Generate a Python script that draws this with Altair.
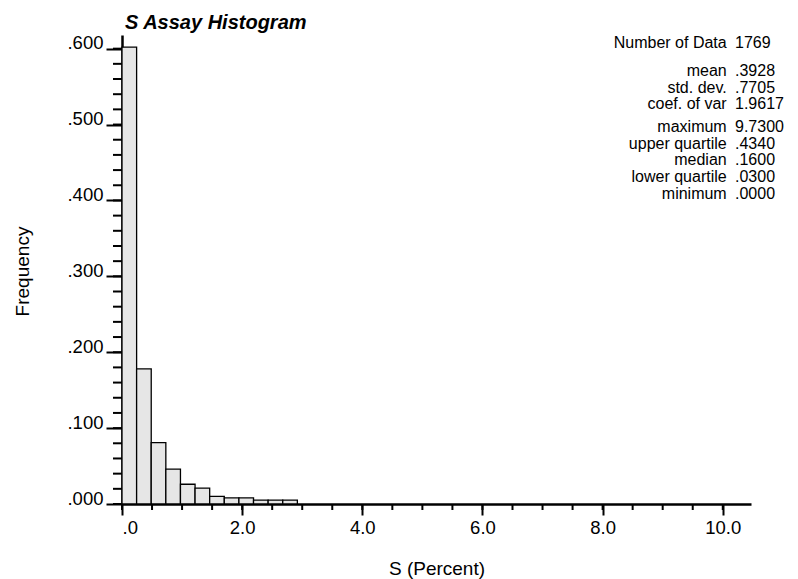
import altair as alt
import pandas as pd

# Histogram of S assay values (relative frequency per class)
bin_width = 0.24325
frequencies = [0.602, 0.178, 0.081, 0.046, 0.026, 0.021, 0.010, 0.008, 0.008, 0.005, 0.005, 0.005]

# Axis tick values
x_major = [0, 2, 4, 6, 8, 10]
x_minor = [i * 0.5 for i in range(21)]
y_major = [0.0, 0.1, 0.2, 0.3, 0.4, 0.5, 0.6]
y_minor = [i * 0.02 for i in range(31)]

# Summary statistics block
stat_names = ["Number of Data", "mean", "std. dev.", "coef. of var",
              "maximum", "upper quartile", "median", "lower quartile", "minimum"]
stat_values = ["1769", ".3928", ".7705", "1.9617",
               "9.7300", ".4340", ".1600", ".0300", ".0000"]

FONT = "Liberation Sans"
W, H = 629, 469
X_MAX, Y_MAX = 10.47, 0.618
LABEL_SIZE = 18.5
TITLE_SIZE = 19
STAT_SIZE = 16

starts = [i * bin_width for i in range(len(frequencies))]
bars_df = pd.DataFrame({
    "start": starts,
    "end": [s + bin_width for s in starts],
    "freq": frequencies,
})

x_scale = alt.Scale(domain=[0, X_MAX], nice=False, zero=False)
y_scale = alt.Scale(domain=[0, Y_MAX], nice=False)

x_axis = alt.Axis(
    values=x_major,
    labelExpr="datum.value == 0 ? '.0' : format(datum.value, '.1f')",
    tickSize=11, tickWidth=2, tickColor="black",
    domainColor="black", domainWidth=2.5,
    labelFont=FONT, labelFontSize=LABEL_SIZE, labelColor="black", labelPadding=3,
    grid=False,
    titleFont=FONT, titleFontSize=TITLE_SIZE, titleFontWeight="normal", titleColor="black",
    titleX=W / 2, titleY=64, titleBaseline="middle", titleAlign="center",
)
y_axis = alt.Axis(
    values=y_major,
    labelExpr="substring(format(datum.value, '.3f'), 1)",
    labelBaseline="alphabetic",
    tickSize=16, tickWidth=2, tickColor="black",
    domainColor="black", domainWidth=2.5,
    labelFont=FONT, labelFontSize=LABEL_SIZE, labelColor="black", labelPadding=3,
    grid=False,
    titleFont=FONT, titleFontSize=TITLE_SIZE, titleFontWeight="normal", titleColor="black",
    titleX=-100, titleY=236, titleAngle=270, titleBaseline="middle", titleAlign="center",
)

bars = alt.Chart(bars_df).mark_bar(
    fill="#e6e6e6", stroke="black", strokeWidth=1.3
).encode(
    x=alt.X("start:Q", scale=x_scale, axis=x_axis, title="S (Percent)"),
    x2="end:Q",
    y=alt.Y("freq:Q", scale=y_scale, axis=y_axis, title="Frequency"),
    y2=alt.datum(0),
)

minor_x = alt.Chart(pd.DataFrame({"t": x_minor})).mark_rule(
    color="black", strokeWidth=2
).encode(
    x=alt.X("t:Q", scale=x_scale, axis=x_axis, title="S (Percent)"),
    y=alt.value(H),
    y2=alt.value(H + 6),
)

minor_y = alt.Chart(pd.DataFrame({"t": y_minor})).mark_rule(
    color="black", strokeWidth=2
).encode(
    y=alt.Y("t:Q", scale=y_scale, axis=y_axis, title="Frequency"),
    x=alt.value(-9),
    x2=alt.value(0),
)

title = alt.Chart(pd.DataFrame({"label": ["S Assay Histogram"]})).mark_text(
    font=FONT, fontSize=20, fontWeight="bold", fontStyle="italic",
    align="left", baseline="alphabetic", color="black",
).encode(text="label:N", x=alt.value(3), y=alt.value(-6))

# baselines of the statistics rows, in pixels from the top of the plot
stat_baselines = [13.3, 40.7, 57.5, 74.3, 96.7, 113.5, 130.3, 147.1, 163.9]
stats_layers = []
for name, val, yb in zip(stat_names, stat_values, stat_baselines):
    row = pd.DataFrame({"name": [name], "value": [val]})
    base = alt.Chart(row)
    stats_layers.append(
        base.mark_text(font=FONT, fontSize=STAT_SIZE, align="right",
                       baseline="alphabetic", color="black")
        .encode(text="name:N", x=alt.value(604.7), y=alt.value(yb))
    )
    stats_layers.append(
        base.mark_text(font=FONT, fontSize=STAT_SIZE, align="left",
                       baseline="alphabetic", color="black")
        .encode(text="value:N", x=alt.value(613), y=alt.value(yb))
    )

chart = alt.layer(bars, minor_x, minor_y, title, *stats_layers).properties(
    width=W,
    height=H,
    padding={"left": 122, "top": 35, "right": 47, "bottom": 75},
    autosize=alt.AutoSizeParams(type="none"),
).configure_view(stroke=None)

chart.save("out.html", embed_options={"renderer": "svg", "actions": False})
